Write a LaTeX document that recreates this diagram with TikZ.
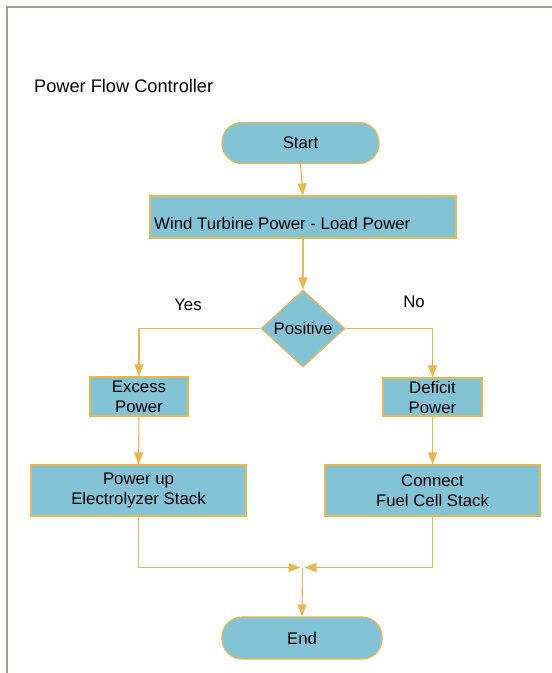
\documentclass[tikz,border=0pt]{standalone}
\usepackage{fontspec}
\setmainfont{Liberation Sans}
\usetikzlibrary{arrows.meta,shapes.geometric}
\definecolor{boxfill}{RGB}{130,196,213}
\definecolor{gold}{RGB}{232,184,78}
\definecolor{framec}{RGB}{170,155,148}
\tikzset{
  txt/.style={font=\fontsize{16.8}{20}\selectfont, text=black},
  box/.style={txt, draw=gold, fill=boxfill, line width=1.2pt, rectangle, inner sep=0pt, align=center},
  term/.style={box, rounded corners=20pt},
  decis/.style={txt, draw=gold, fill=boxfill, line width=1.2pt, diamond, inner sep=0pt, minimum width=84pt, minimum height=77pt},
  conn/.style={draw=gold, line width=1.1pt, -{Triangle[length=12pt,width=9pt]}},
}
\begin{document}
\begin{tikzpicture}[x=1pt,y=-1pt]
\useasboundingbox (0,0) rectangle (552,673);
\draw[framec, line width=1.2pt] (7,673) -- (7,7) -- (552,7);
\node[txt, font=\fontsize{18.2}{21}\selectfont, anchor=west, inner sep=0pt] (title) at (34,86) {Power Flow Controller};
\node[term, minimum width=157pt, minimum height=41pt] (start) at (300.5,143) {Start};
\node[box, minimum width=306pt, minimum height=42pt] (wind) at (303,217) {};
\node[txt, anchor=west, inner sep=0pt] (windt) at (154,223) {Wind Turbine Power - Load Power};
\node[decis] (pos) at (303,328.5) {Positive};
\node[txt] (yes) at (188,305) {Yes};
\node[txt] (no) at (414,302) {No};
\node[box, minimum width=98pt, minimum height=39pt] (excess) at (139,396.5) {Excess\\Power};
\node[box, minimum width=99pt, minimum height=38pt] (deficit) at (432.5,397) {Deficit\\Power};
\node[box, minimum width=215pt, minimum height=51pt] (pu) at (138.5,490.5) {Power up\\Electrolyzer Stack};
\node[box, minimum width=215pt, minimum height=51pt] (fc) at (432.5,490.5) {Connect\\Fuel Cell Stack};
\node[term, minimum width=160pt, minimum height=42pt] (end) at (302,638) {End};
\coordinate (m) at (302.5,567.5);
\draw[conn] (start.south) -- (wind.north);
\draw[conn] (wind.south) -- (pos.north);
\draw[conn] (pos.west) -| (excess.north);
\draw[conn] (pos.east) -| (deficit.north);
\draw[conn] (excess.south) -- (pu.north);
\draw[conn] (deficit.south) -- (fc.north);
\draw[conn, shorten >=2pt] (pu.south) |- (m);
\draw[conn, shorten >=2pt] (fc.south) |- (m);
\draw[conn] (m) -- (end.north);
\end{tikzpicture}
\end{document}
